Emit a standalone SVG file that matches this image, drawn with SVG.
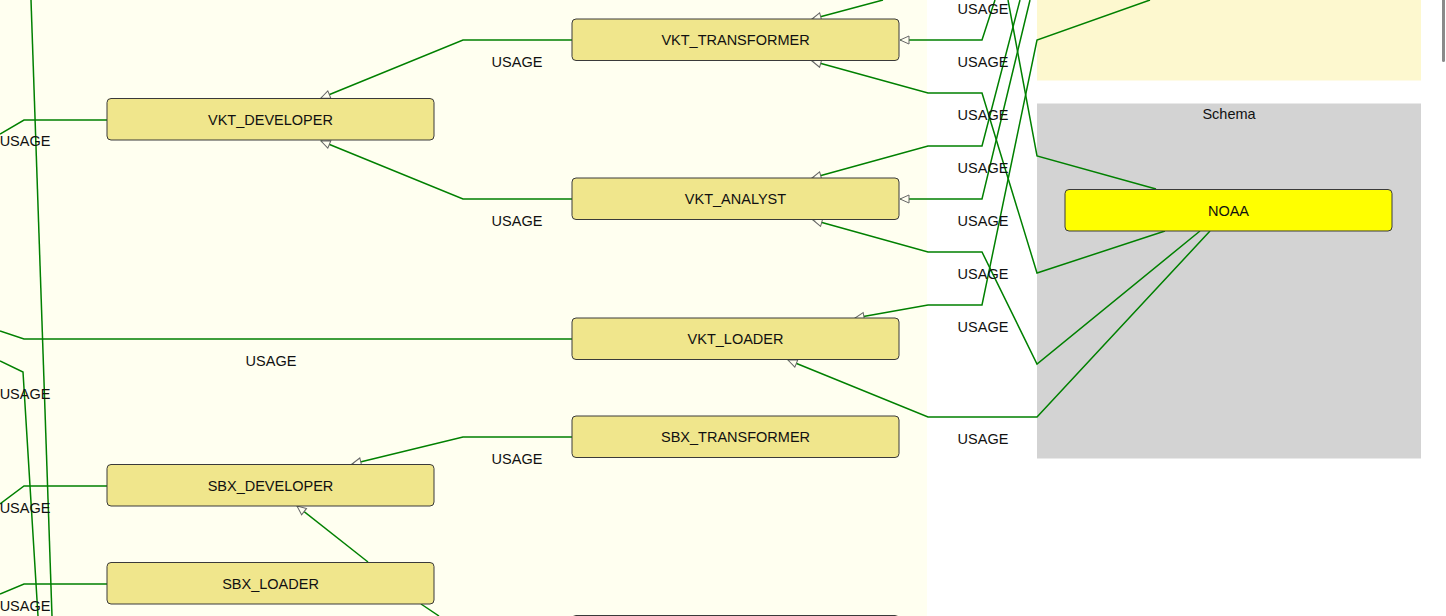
<svg xmlns="http://www.w3.org/2000/svg" width="1446" height="616" viewBox="0 0 1446 616">
<defs>
<style>
.n rect{fill:#f0e68c;stroke:#3a3a3a;stroke-width:1}
.n text,.lbl{font-family:"Liberation Sans",Arial,sans-serif;font-size:14.5px;fill:#111;text-anchor:middle}
.e{fill:none;stroke:#008000;stroke-width:1.5}
.a{marker-end:url(#arr)}
</style>
<marker id="arr" markerUnits="userSpaceOnUse" markerWidth="14" markerHeight="12" refX="10" refY="5" orient="auto">
<path d="M1,1 L10,5 L1,9 Z" fill="#fffff0" stroke="#666" stroke-width="1"/>
</marker>
</defs>
<rect x="0" y="0" width="1446" height="616" fill="#ffffff"/>
<rect x="0" y="0" width="927" height="616" fill="#fffff0"/>
<g id="cluster_top"><rect x="1037" y="-2" width="384" height="82.5" fill="#fdf8cf"/></g>
<g id="cluster_schema"><rect x="1037" y="103.5" width="384" height="355" fill="#d3d3d3"/>
<text class="lbl" x="1229" y="119" fill="#222">Schema</text></g>
<rect x="1442" y="-6" width="3" height="68" rx="1.5" fill="#8a8a8a"/>

<g id="connectors">
<polyline class="e a" points="883,0 812,19"/>
<polyline class="e a" points="995,0 982,40 900,40"/>
<polyline class="e a" points="1165,231 1037,273 982,93 928,93 812,61"/>
<polyline class="e" points="1008,0 1037,156 1156,189"/>
<polyline class="e a" points="1020,0 982,146 928,146 812,178"/>
<polyline class="e a" points="1030,0 982,199 900,199"/>
<polyline class="e a" points="1200,231 1037,364 982,252 928,252 813,220"/>
<polyline class="e a" points="1150,0 1037,40 982,305 928,305 855,318"/>
<polyline class="e a" points="1210,231 1037,417 928,417 788,360"/>
<polyline class="e a" points="572,40 463,40 321,98"/>
<polyline class="e a" points="572,199 463,199 321,141"/>
<polyline class="e" points="107,120 24,120 0,134"/>
<polyline class="e" points="572,339 24,339 0,331"/>
<polyline class="e" points="0,361 23,372 38,616"/>
<polyline class="e" points="31,0 52,616"/>
<polyline class="e a" points="572,437 463,437 352,464"/>
<polyline class="e" points="107,486 24,486 0,504"/>
<polyline class="e" points="107,584 24,584 0,594"/>
<polyline class="e a" points="368,562 297,506"/>
<polyline class="e" points="421,604 439,616"/>
<text class="lbl" x="983" y="14">USAGE</text>
<text class="lbl" x="983" y="67">USAGE</text>
<text class="lbl" x="983" y="120">USAGE</text>
<text class="lbl" x="983" y="173">USAGE</text>
<text class="lbl" x="983" y="226">USAGE</text>
<text class="lbl" x="983" y="279">USAGE</text>
<text class="lbl" x="983" y="332">USAGE</text>
<text class="lbl" x="983" y="444">USAGE</text>
<text class="lbl" x="517" y="67">USAGE</text>
<text class="lbl" x="517" y="226">USAGE</text>
<text class="lbl" x="517" y="464">USAGE</text>
<text class="lbl" x="271" y="366">USAGE</text>
<text class="lbl" x="25" y="146">USAGE</text>
<text class="lbl" x="25" y="399">USAGE</text>
<text class="lbl" x="25" y="513">USAGE</text>
<text class="lbl" x="25" y="611">USAGE</text>
</g>

<g id="VKT_TRANSFORMER" class="n"><rect x="572" y="19" width="327" height="41.5" rx="4"/><text x="735.5" y="45">VKT_TRANSFORMER</text></g>
<g id="VKT_DEVELOPER" class="n"><rect x="107" y="98.5" width="327" height="41.5" rx="4"/><text x="270.5" y="125">VKT_DEVELOPER</text></g>
<g id="VKT_ANALYST" class="n"><rect x="572" y="178" width="327" height="41.5" rx="4"/><text x="735.5" y="204">VKT_ANALYST</text></g>
<g id="VKT_LOADER" class="n"><rect x="572" y="318" width="327" height="41.5" rx="4"/><text x="735.5" y="344">VKT_LOADER</text></g>
<g id="SBX_TRANSFORMER" class="n"><rect x="572" y="416" width="327" height="41.5" rx="4"/><text x="735.5" y="442">SBX_TRANSFORMER</text></g>
<g id="SBX_DEVELOPER" class="n"><rect x="107" y="464.5" width="327" height="41.5" rx="4"/><text x="270.5" y="491">SBX_DEVELOPER</text></g>
<g id="SBX_LOADER" class="n"><rect x="107" y="562.5" width="327" height="41.5" rx="4"/><text x="270.5" y="589">SBX_LOADER</text></g>
<g id="partial_node" class="n"><rect x="572" y="615.5" width="327" height="41.5" rx="4"/></g>
<g id="NOAA" class="n"><rect x="1065" y="189.5" width="327" height="41.5" rx="4" style="fill:#ffff00"/><text x="1228.5" y="216">NOAA</text></g>
</svg>
